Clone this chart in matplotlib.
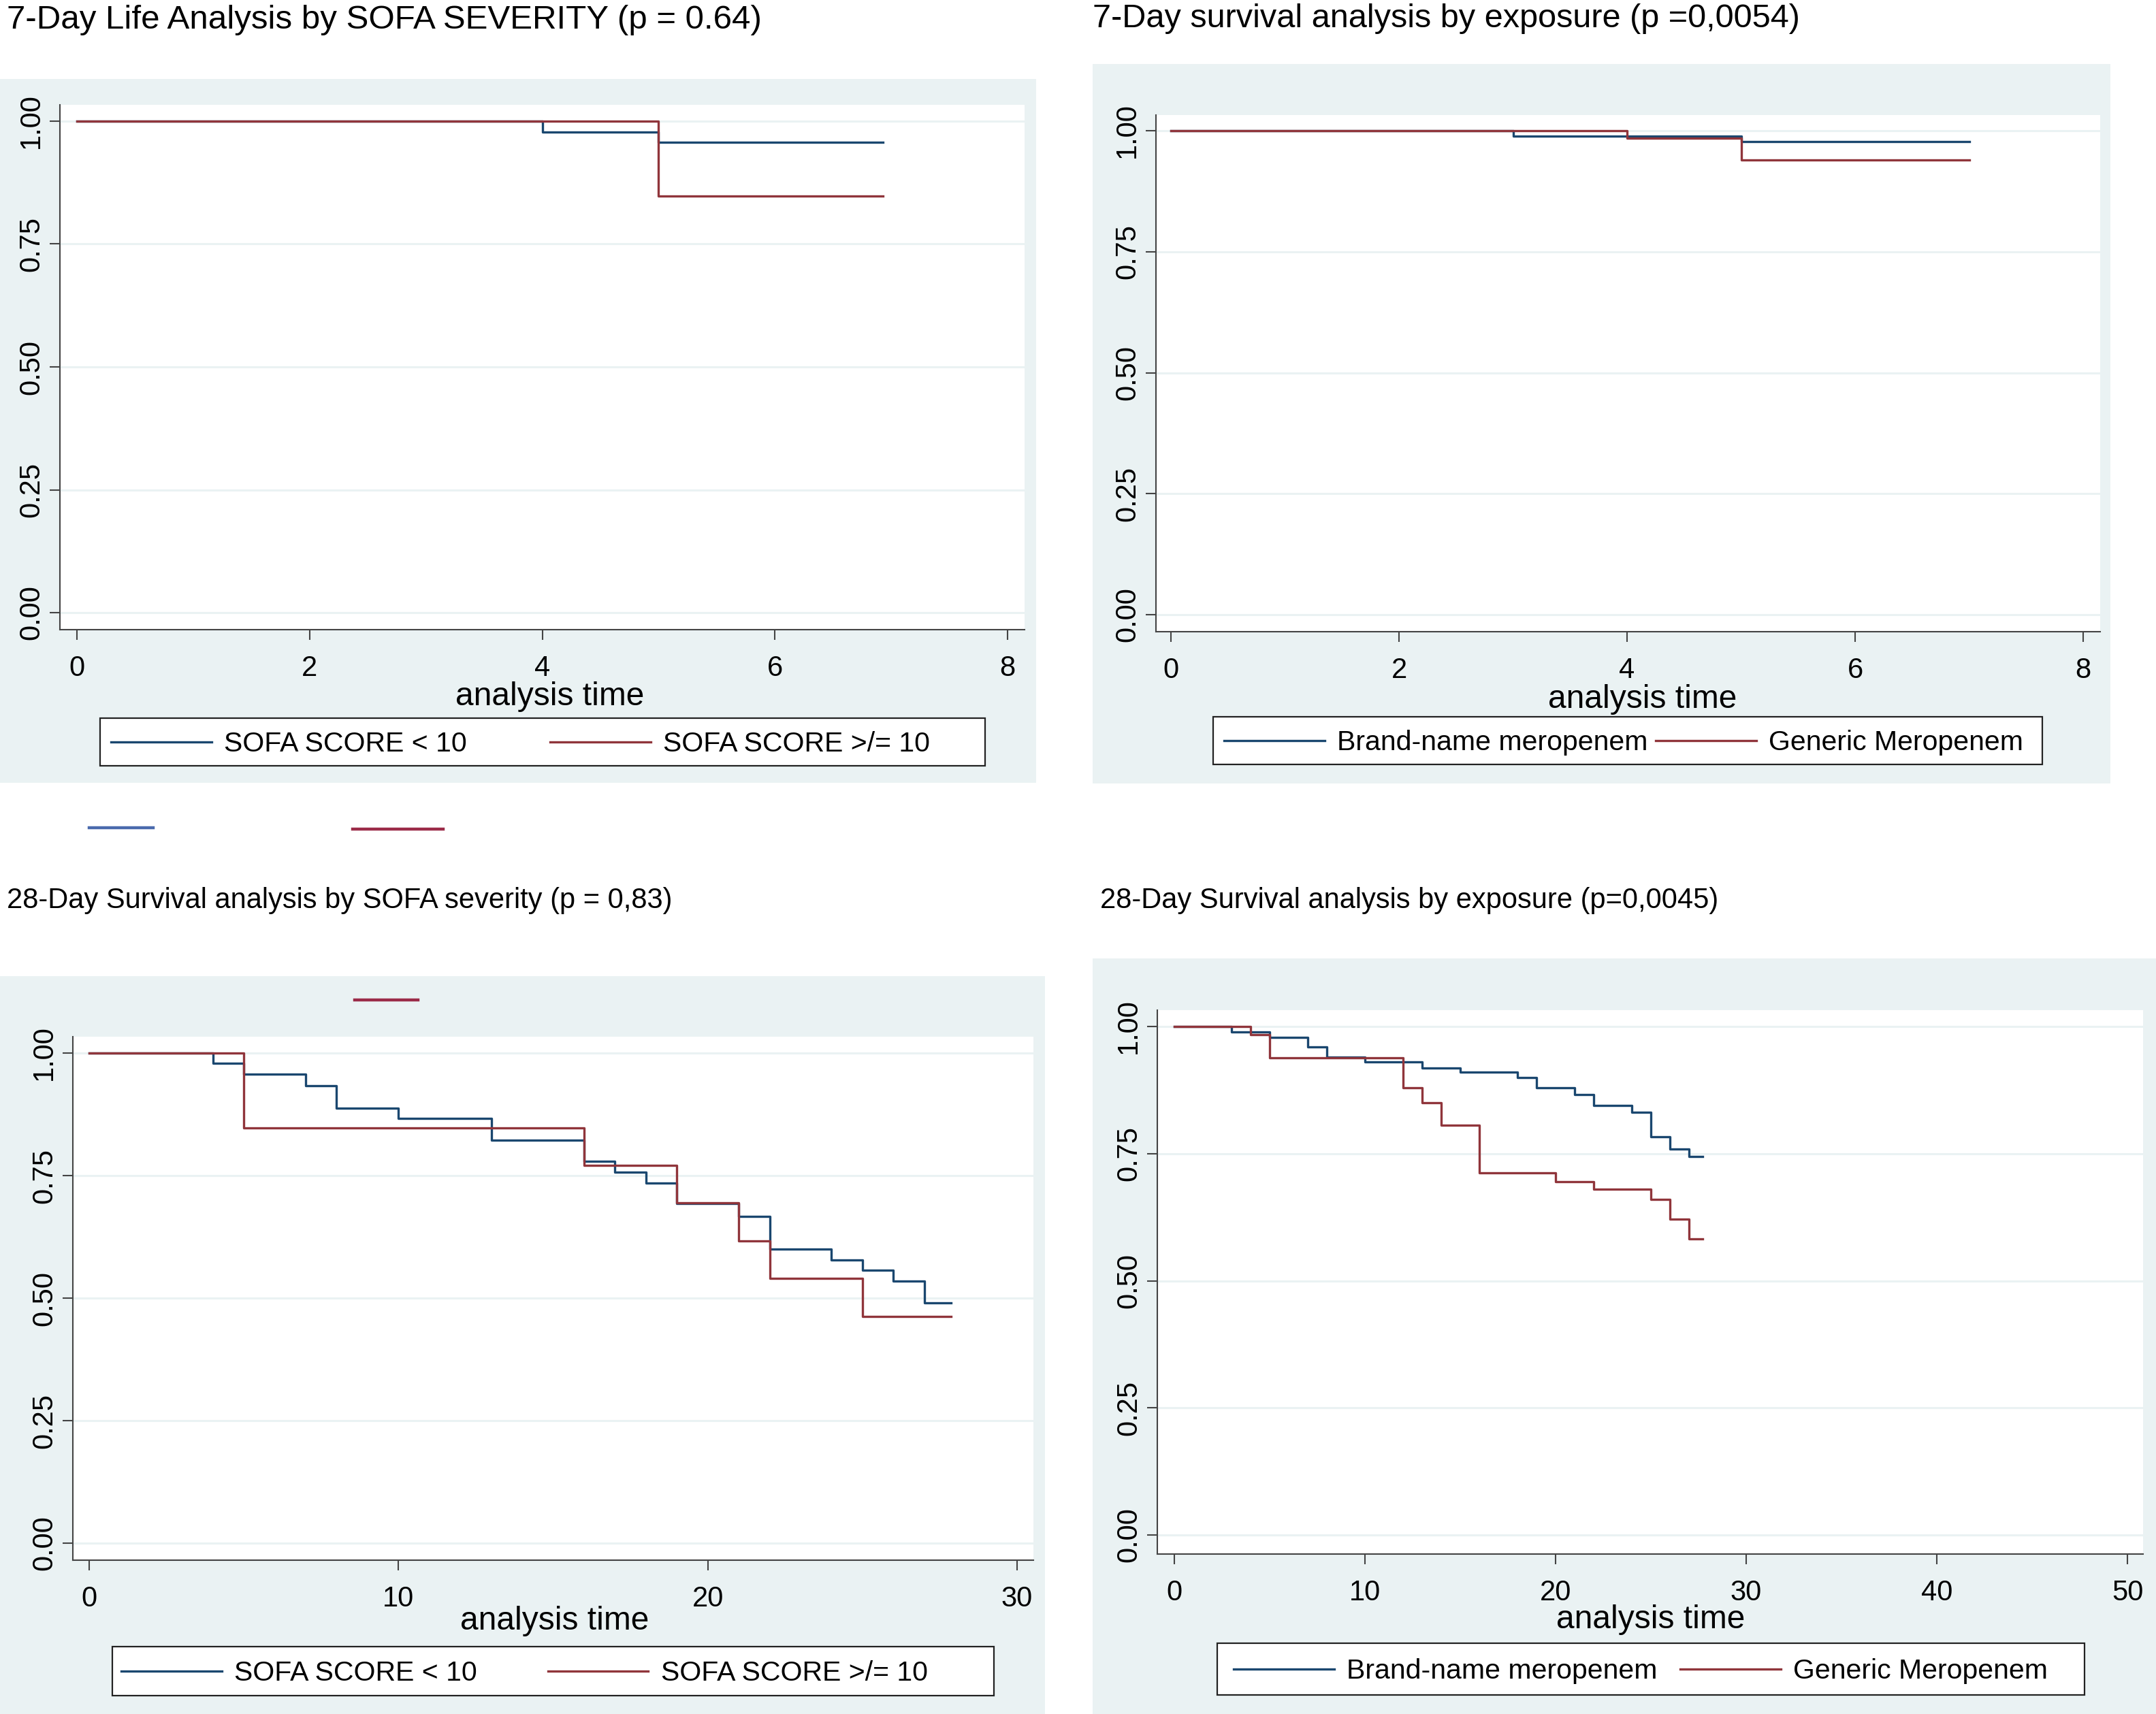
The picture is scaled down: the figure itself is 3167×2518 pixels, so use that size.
import matplotlib
matplotlib.use("Agg")
import matplotlib.pyplot as plt
from matplotlib.patches import Rectangle
from matplotlib.lines import Line2D

plt.rcParams['font.family'] = ['Liberation Sans', 'DejaVu Sans']

W, H = 3167, 2518
NAVY = "#1a476f"
MAROON = "#90353b"
BG = "#eaf2f3"

# --- données (courbes de Kaplan-Meier) ---
# 7 jours, par sévérité SOFA
t7_sofa_low = [0, 4, 5, 6.93]
s7_sofa_low = [1.0, 0.978, 0.957, 0.957]
t7_sofa_high = [0, 5, 6.93]
s7_sofa_high = [1.0, 0.847, 0.847]

# 7 jours, par exposition
t7_brand = [0, 3, 5, 7.0]
s7_brand = [1.0, 0.989, 0.978, 0.978]
t7_generic = [0, 4, 5, 7.0]
s7_generic = [1.0, 0.984, 0.939, 0.939]

# 28 jours, par sévérité SOFA
t28_sofa_low = [0, 4, 5, 7, 8, 10, 13, 16, 17, 18, 19, 21, 22, 24, 25, 26, 27, 27.87]
s28_sofa_low = [1.0, 0.979, 0.957, 0.933, 0.888, 0.866, 0.822, 0.779, 0.757, 0.735,
                0.693, 0.667, 0.600, 0.578, 0.557, 0.535, 0.490, 0.490]
t28_sofa_high = [0, 5, 16, 19, 21, 22, 25, 27.87]
s28_sofa_high = [1.0, 0.847, 0.771, 0.694, 0.617, 0.540, 0.463, 0.463]

# 28 jours, par exposition
t28_brand = [0, 3, 5, 7, 8, 10, 13, 15, 18, 19, 21, 22, 24, 25, 26, 27, 27.7]
s28_brand = [1.0, 0.989, 0.979, 0.960, 0.940, 0.930, 0.918, 0.910, 0.899, 0.879,
             0.866, 0.845, 0.831, 0.783, 0.759, 0.744, 0.744]
t28_generic = [0, 4, 5, 12, 13, 14, 16, 20, 22, 25, 26, 27, 27.7]
s28_generic = [1.0, 0.984, 0.939, 0.880, 0.850, 0.806, 0.712, 0.695, 0.680, 0.660,
               0.621, 0.582, 0.582]

yticks = [0.0, 0.25, 0.50, 0.75, 1.0]

labels_sofa = ["SOFA SCORE < 10", "SOFA SCORE >/= 10"]
labels_expo = ["Brand-name meropenem", "Generic Meropenem"]

titles = [
    "7-Day Life Analysis by SOFA SEVERITY (p = 0.64)",
    "7-Day survival analysis by exposure (p =0,0054)",
    "28-Day Survival analysis by SOFA severity (p = 0,83)",
    "28-Day Survival analysis by exposure (p=0,0045)",
]


def fx(px):
    return px / W


def fy(py):
    return 1 - py / H


fig = plt.figure(figsize=(W / 100, H / 100), dpi=100)
fig.patch.set_facecolor("white")


def panel(bg, box, ticks_px, xmax, xticks, curves, labels, title, title_xy, title_size,
          xlabel_xy, leg_box, leg_cols):
    # fond gris-bleu du graphique Stata
    fig.add_artist(Rectangle((fx(bg[0]), fy(bg[3])), fx(bg[2] - bg[0]), (bg[3] - bg[1]) / H,
                             transform=fig.transFigure, facecolor=BG, edgecolor="none",
                             zorder=0))
    left, right, top, bottom = box
    x0p, xrp, y1p, y0p = ticks_px
    ax = fig.add_axes([fx(left), fy(bottom), fx(right - left), (bottom - top) / H])
    ax.set_zorder(2)
    sx = (xrp - x0p) / xmax
    ax.set_xlim((left - x0p) / sx, (right - x0p) / sx)
    sy = (y0p - y1p)
    ax.set_ylim((y0p - bottom) / sy, (y0p - top) / sy)
    ax.set_facecolor("white")
    for (t, s), c in zip(curves, [NAVY, MAROON]):
        ax.step(t, s, where="post", color=c, lw=2.4, zorder=3)
    ax.set_yticks(yticks)
    ax.set_yticklabels([f"{v:.2f}" for v in yticks], rotation=90, va="center")
    ax.set_xticks(xticks)
    ax.grid(axis="y", color=BG, lw=2.2)
    ax.grid(axis="x", visible=False)
    ax.spines["top"].set_visible(False)
    ax.spines["right"].set_visible(False)
    for sp in ["left", "bottom"]:
        ax.spines[sp].set_linewidth(1.5)
        ax.spines[sp].set_color("#444444")
    ax.tick_params(axis="both", labelsize=30, length=10.8, width=1.5, color="#444444")
    ax.tick_params(axis="x", pad=16)
    ax.tick_params(axis="y", pad=5)
    fig.text(fx(title_xy[0]), fy(title_xy[1]), title, fontsize=title_size, ha="left", va="center")
    fig.text(fx(xlabel_xy[0]), fy(xlabel_xy[1] + 5), "analysis time", fontsize=34.5,
             ha="center", va="center")
    # cadre de légende + deux entrées placées comme dans Stata
    lx0, ly0, lx1, ly1 = leg_box
    fig.add_artist(Rectangle((fx(lx0), fy(ly1)), fx(lx1 - lx0), (ly1 - ly0) / H,
                             transform=fig.transFigure, facecolor="white", edgecolor="#222222",
                             lw=1.6, zorder=3))
    yc = fy((ly0 + ly1) / 2 + 3)
    for col_x, c, lab in zip(leg_cols, [NAVY, MAROON], labels):
        leg = fig.legend([Line2D([], [], color=c, lw=2.4)], [lab], loc="center left",
                         bbox_to_anchor=(fx(col_x), yc), fontsize=29.5, frameon=False,
                         borderpad=0, borderaxespad=0, handlelength=3.6, handletextpad=0.45)
        leg.set_zorder(4)
    return ax


panel((0, 116, 1522, 1150), (88, 1505, 154, 925), (113, 1480, 178, 900), 8, [0, 2, 4, 6, 8],
      [(t7_sofa_low, s7_sofa_low), (t7_sofa_high, s7_sofa_high)], labels_sofa, titles[0],
      (10, 30), 35.5, (808, 1019), (147, 1055, 1447, 1125), (163, 808))

panel((1605, 94, 3100, 1151), (1698, 3085, 169, 928), (1720, 3060, 192, 903), 8, [0, 2, 4, 6, 8],
      [(t7_brand, s7_brand), (t7_generic, s7_generic)], labels_expo, titles[1],
      (1605, 27), 35, (2413, 1022), (1782, 1053, 3000, 1123), (1798, 2432))

panel((0, 1434, 1535, 2518), (107, 1518, 1523, 2292), (131, 1494, 1547, 2267), 30,
      [0, 10, 20, 30],
      [(t28_sofa_low, s28_sofa_low), (t28_sofa_high, s28_sofa_high)], labels_sofa, titles[2],
      (10, 1323), 30, (815, 2377), (165, 2419, 1460, 2491), (178, 805))

panel((1605, 1408, 3167, 2518), (1700, 3148, 1484, 2283), (1725, 3125, 1508, 2255), 50,
      [0, 10, 20, 30, 40, 50],
      [(t28_brand, s28_brand), (t28_generic, s28_generic)], labels_expo, titles[3],
      (1616, 1323), 30, (2425, 2374), (1788, 2414, 3062, 2490), (1812, 2468))

# petits traits de légende orphelins présents sur la figure d'origine
for (xa, xb, yy, c) in [(131, 225, 1216, "#4a6aad"), (518, 651, 1218, "#9b2b48"),
                        (521, 614, 1469, "#9b2b48")]:
    fig.add_artist(Line2D([fx(xa), fx(xb)], [fy(yy), fy(yy)], transform=fig.transFigure,
                          color=c, lw=3.2))

fig.savefig("out.png", dpi=100)
